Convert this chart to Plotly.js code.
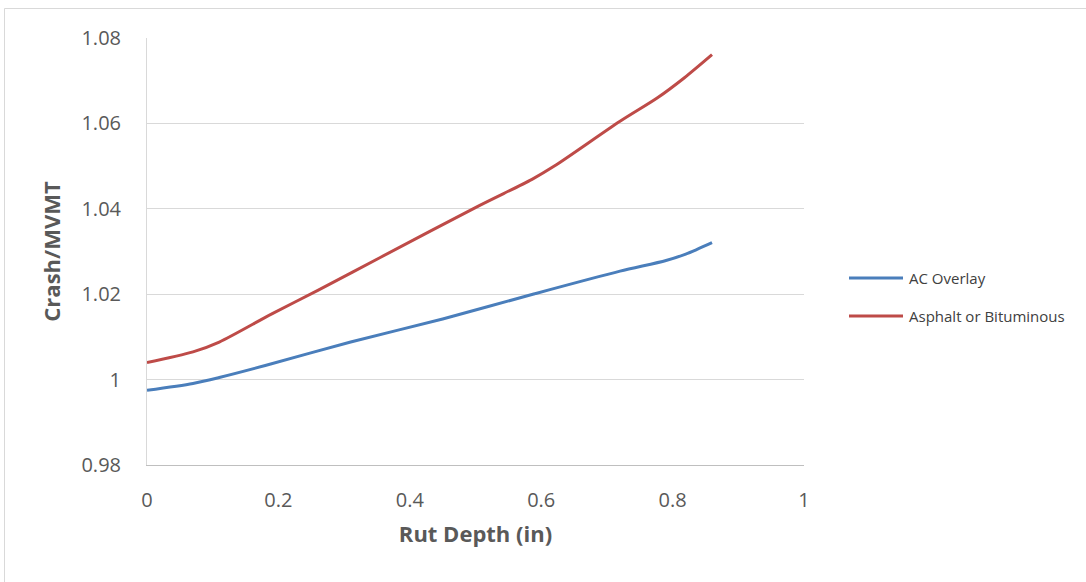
<!DOCTYPE html>
<html>
<head>
<meta charset="utf-8">
<script src="https://cdn.plot.ly/plotly-3.0.1.min.js"></script>
<style>
html,body{margin:0;padding:0;background:#fff;}
#chart{width:1086px;height:582px;}
</style>
</head>
<body>
<div id="chart"></div>
<script>
// Data
const seriesNames = ["AC Overlay", "Asphalt or Bituminous"];
const seriesColors = ["#4A7EBB", "#BE4B48"];
const acX = [0, 0.07, 0.11, 0.18, 0.31, 0.45, 0.59, 0.72, 0.79, 0.82, 0.86];
const acY = [0.9975, 0.9991, 1.0005, 1.0033, 1.0088, 1.0142, 1.0201, 1.0254, 1.0279, 1.0294, 1.0321];
const asphX = [0, 0.07, 0.11, 0.19, 0.26, 0.355, 0.505, 0.586, 0.62, 0.72, 0.777, 0.818, 0.86];
const asphY = [1.0040, 1.0065, 1.0088, 1.0154, 1.0209, 1.0286, 1.0407, 1.0469, 1.0500, 1.0605, 1.0660, 1.0707, 1.0761];
const xTicks = [0, 0.2, 0.4, 0.6, 0.8, 1];
const xTickText = ["0", "0.2", "0.4", "0.6", "0.8", "1"];
const yTicks = [0.98, 1, 1.02, 1.04, 1.06, 1.08];
const yTickText = ["0.98", "1", "1.02", "1.04", "1.06", "1.08"];
const xTitle = "Rut Depth (in)";
const yTitle = "Crash/MVMT";

const font = '"Open Sans", "Liberation Sans", sans-serif';

// plot area in pixels (for placing the legend / frame in paper units)
const L = 147, R = 804, T = 38, B = 465;
const px = v => (v - L) / (R - L);
const py = v => (B - v) / (B - T);

const traces = [
  {x: acX, y: acY, name: seriesNames[0], mode: "lines",
   line: {color: seriesColors[0], width: 3, shape: "spline", smoothing: 0.8}},
  {x: asphX, y: asphY, name: seriesNames[1], mode: "lines",
   line: {color: seriesColors[1], width: 3, shape: "spline", smoothing: 0.8}}
];

// custom legend (line swatch + label), rows at y=278 and y=316
const legendRows = [278, 316];
const legendShapes = seriesNames.map((n, i) => ({
  type: "line", xref: "paper", yref: "paper",
  x0: px(849), x1: px(903), y0: py(legendRows[i]), y1: py(legendRows[i]),
  line: {color: seriesColors[i], width: 3}
}));
const legendAnn = seriesNames.map((n, i) => ({
  xref: "paper", yref: "paper", x: px(907), y: py(legendRows[i]),
  xanchor: "left", yanchor: "middle", showarrow: false, text: n,
  font: {family: font, size: 15, color: "#404040"}
}));

const layout = {
  width: 1086, height: 582,
  margin: {l: L, r: 1086 - R, t: T, b: 582 - B},
  paper_bgcolor: "#ffffff", plot_bgcolor: "#ffffff",
  font: {family: font, color: "#595959", size: 20},
  showlegend: false,
  xaxis: {
    range: [0, 1], tickvals: xTicks, ticktext: xTickText,
    showgrid: false, zeroline: false,
    showline: true, linecolor: "#bfbfbf", linewidth: 1,
    ticks: "", ticklabelstandoff: 17,
    tickfont: {family: font, size: 20, color: "#595959"},
    title: {text: xTitle, font: {family: font, size: 22, color: "#595959", weight: "bold"}, standoff: 14}
  },
  yaxis: {
    range: [0.98, 1.08], tickvals: yTicks, ticktext: yTickText,
    showgrid: true, gridcolor: "#d9d9d9", gridwidth: 1, zeroline: false,
    showline: true, linecolor: "#d9d9d9", linewidth: 1,
    ticks: "", ticklabelstandoff: 21,
    tickfont: {family: font, size: 20, color: "#595959"},
    title: {text: yTitle, font: {family: font, size: 22, color: "#595959", weight: "bold"}, standoff: 14}
  },
  shapes: [
    {type: "rect", xref: "paper", yref: "paper",
     x0: px(4.5), x1: px(1100), y0: py(600), y1: py(8.5),
     line: {color: "#d9d9d9", width: 1}, fillcolor: "rgba(0,0,0,0)", layer: "below"}
  ].concat(legendShapes),
  annotations: legendAnn
};

Plotly.newPlot("chart", traces, layout, {staticPlot: true, displayModeBar: false});
</script>
</body>
</html>
